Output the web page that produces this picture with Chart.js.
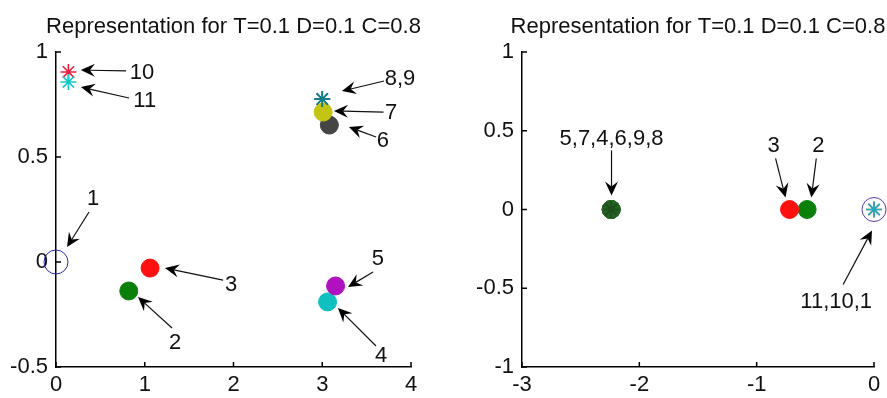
<!DOCTYPE html>
<html>
<head>
<meta charset="utf-8">
<script src="https://cdn.jsdelivr.net/npm/chart.js@4.4.1/dist/chart.umd.min.js"></script>
<style>
  body { margin: 0; background: #fff; }
  .panel { position: absolute; top: 0; }
  #leftBox { left: 0; }
  #rightBox { left: 443px; }
</style>
</head>
<body>
<div class="panel" id="leftBox"><canvas id="leftChart" width="443" height="398"></canvas></div>
<div class="panel" id="rightBox"><canvas id="rightChart" width="444" height="398"></canvas></div>
<script>
// ---- data ----
const nodeNames = ["1", "2", "3", "4", "5", "6", "7", "8", "9", "10", "11"];
const titleText = "Representation for T=0.1 D=0.1 C=0.8";

// first view
const leftX = [0, 0.82, 1.06, 3.06, 3.15, 3.08, 3.01, 3.0, 3.0, 0.14, 0.14];
const leftY = [0, -0.138, -0.029, -0.19, -0.114, 0.652, 0.714, 0.776, 0.776, 0.905, 0.857];
const leftXTicks = [0, 1, 2, 3, 4];
const leftYTicks = [-0.5, 0, 0.5, 1];

// second view
const rightX = [0, -0.57, -0.72, -2.24, -2.24, -2.24, -2.24, -2.24, -2.24, 0, 0];
const rightY = [0, 0, 0, 0, 0, 0, 0, 0, 0, 0, 0];
const rightXTicks = [-3, -2, -1, 0];
const rightYTicks = [-1, -0.5, 0, 0.5, 1];

// ---- marker styles per node ----
const leftColors  = ["#2b2ba0", "#0a800a", "#ff1010", "#10c0c0", "#b010c0", "#454545", "#c4c414", "#1f3fa8", "#0f8080", "#ee2040", "#18c8c8"];
const rightColors = ["#5a3ca8", "#0a800a", "#ff1010", "#2a6a2a", "#2a6a2a", "#2a6a2a", "#246224", "#1d4f1d", "#1d4f1d", "#c8803a", "#20a8c0"];
const shapes = ["circle", "circle", "circle", "circle", "circle", "circle", "circle", "star", "star", "star", "star"];
const sizes  = [12, 9, 9, 9, 9, 9, 9, 8, 8, 8, 8];
const filled = [false, true, true, true, true, true, true, false, false, false, false];

// annotation arrows: label centre, line start, arrow tip (axis units)
const leftNotes = [
  { text: "10",  at: [0.97, 0.905],  from: [0.79, 0.91],   to: [0.28, 0.914] },
  { text: "11",  at: [1.0, 0.771],   from: [0.823, 0.781], to: [0.28, 0.833] },
  { text: "8,9", at: [3.876, 0.876], from: [3.696, 0.862], to: [3.222, 0.814] },
  { text: "7",   at: [3.775, 0.714], from: [3.69, 0.714],  to: [3.132, 0.719] },
  { text: "6",   at: [3.684, 0.581], from: [3.606, 0.595], to: [3.301, 0.643] },
  { text: "1",   at: [0.417, 0.305], from: [0.372, 0.238], to: [0.124, 0.071] },
  { text: "3",   at: [1.972, -0.105], from: [1.882, -0.086], to: [1.228, -0.029] },
  { text: "2",   at: [1.341, -0.381], from: [1.307, -0.314], to: [0.924, -0.167] },
  { text: "5",   at: [3.628, 0.019], from: [3.572, -0.048], to: [3.29, -0.119] },
  { text: "4",   at: [3.662, -0.443], from: [3.606, -0.4],  to: [3.177, -0.219] }
];
const rightNotes = [
  { text: "5,7,4,6,9,8", at: [-2.237, 0.457], from: [-2.237, 0.375], to: [-2.237, 0.089] },
  { text: "3",       at: [-0.856, 0.413], from: [-0.839, 0.324], to: [-0.754, 0.076] },
  { text: "2",       at: [-0.475, 0.413], from: [-0.492, 0.324], to: [-0.534, 0.076] },
  { text: "11,10,1", at: [-0.322, -0.578], from: [-0.263, -0.476], to: [-0.017, -0.133] }
];

const FAMILY = "'Liberation Sans', Arial, sans-serif";
const FONT = "22px " + FAMILY;

// inward ticks, title and arrows
const decorPlugin = {
  id: "decor",
  afterDraw(chart, args, opts) {
    const { ctx, chartArea: ca } = chart;
    const xs = chart.scales.x, ys = chart.scales.y;
    ctx.save();
    ctx.strokeStyle = "#000";
    ctx.lineWidth = 1.5;
    ctx.beginPath();
    opts.xTicks.forEach(v => {
      const px = xs.getPixelForValue(v);
      ctx.moveTo(px, ca.bottom);
      ctx.lineTo(px, ca.bottom - 5);
    });
    opts.yTicks.forEach(v => {
      const py = ys.getPixelForValue(v);
      ctx.moveTo(ca.left, py);
      ctx.lineTo(ca.left + 5, py);
    });
    ctx.stroke();

    ctx.fillStyle = "#111";
    ctx.font = FONT;
    ctx.textAlign = "center";
    ctx.textBaseline = "alphabetic";
    ctx.fillText(titleText, (ca.left + ca.right) / 2, 33);

    ctx.textBaseline = "middle";
    opts.notes.forEach(n => {
      const tx = xs.getPixelForValue(n.at[0]), ty = ys.getPixelForValue(n.at[1]);
      const fx = xs.getPixelForValue(n.from[0]), fy = ys.getPixelForValue(n.from[1]);
      const hx = xs.getPixelForValue(n.to[0]), hy = ys.getPixelForValue(n.to[1]);
      ctx.fillStyle = "#111";
      ctx.fillText(n.text, tx, ty + 1);

      const ang = Math.atan2(hy - fy, hx - fx);
      const len = 14, half = 6.5, back = 9;
      ctx.strokeStyle = "#111";
      ctx.lineWidth = 1.2;
      ctx.beginPath();
      ctx.moveTo(fx, fy);
      ctx.lineTo(hx - Math.cos(ang) * back, hy - Math.sin(ang) * back);
      ctx.stroke();

      // swept-back filled head
      const bx = hx - Math.cos(ang) * len, by = hy - Math.sin(ang) * len;
      const nx = -Math.sin(ang), ny = Math.cos(ang);
      ctx.fillStyle = "#000";
      ctx.beginPath();
      ctx.moveTo(hx, hy);
      ctx.lineTo(bx + nx * half, by + ny * half);
      ctx.lineTo(hx - Math.cos(ang) * back, hy - Math.sin(ang) * back);
      ctx.lineTo(bx - nx * half, by - ny * half);
      ctx.closePath();
      ctx.fill();
    });
    ctx.restore();
  }
};

function buildChart(id, xs, ys, colors, xTicks, yTicks, notes, axisWidth, padRight) {
  const points = xs.map((x, i) => ({ x, y: ys[i] }));
  const tickFont = { family: FAMILY, size: 22 };
  return new Chart(document.getElementById(id), {
    type: "scatter",
    data: {
      labels: nodeNames,
      datasets: [{
        data: points,
        pointStyle: shapes,
        pointRadius: sizes,
        pointBorderWidth: shapes.map(s => s === "star" ? 1.6 : 1),
        pointBorderColor: colors,
        pointBackgroundColor: colors.map((c, i) => filled[i] ? c : "rgba(0,0,0,0)"),
        clip: false
      }]
    },
    options: {
      responsive: false,
      animation: false,
      layout: { padding: { top: 52, right: padRight, left: 0, bottom: 0 } },
      plugins: {
        legend: { display: false },
        tooltip: { enabled: false },
        decor: { xTicks, yTicks, notes }
      },
      scales: {
        x: {
          type: "linear",
          min: xTicks[0], max: xTicks[xTicks.length - 1],
          afterFit: s => { s.height = 31; },
          afterBuildTicks: s => { s.ticks = xTicks.map(v => ({ value: v })); },
          grid: { display: false, drawTicks: false },
          border: { display: true, color: "#000", width: 1.5 },
          ticks: { color: "#111", font: tickFont, padding: 5, maxRotation: 0, callback: v => String(v) }
        },
        y: {
          type: "linear",
          min: yTicks[0], max: yTicks[yTicks.length - 1],
          afterFit: s => { s.width = axisWidth; },
          afterBuildTicks: s => { s.ticks = yTicks.map(v => ({ value: v })); },
          grid: { display: false, drawTicks: false },
          border: { display: true, color: "#000", width: 1.5 },
          ticks: { color: "#111", font: tickFont, padding: 8, callback: v => String(v) }
        }
      }
    },
    plugins: [decorPlugin]
  });
}

buildChart("leftChart", leftX, leftY, leftColors, leftXTicks, leftYTicks, leftNotes, 56, 32);
buildChart("rightChart", rightX, rightY, rightColors, rightXTicks, rightYTicks, rightNotes, 79, 11);
</script>
</body>
</html>
